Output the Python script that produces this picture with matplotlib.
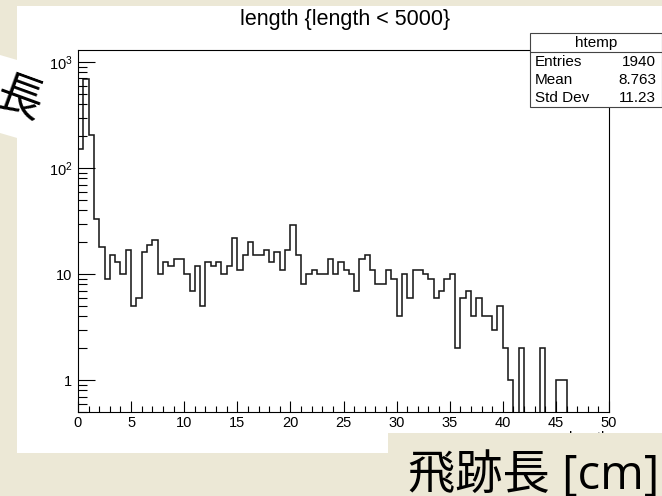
import numpy as np
import matplotlib
matplotlib.use("Agg")
import matplotlib.pyplot as plt
from matplotlib.patches import Rectangle, Polygon
from matplotlib.ticker import FixedLocator, MultipleLocator, LogLocator, NullFormatter

plt.rcParams["font.family"] = ["Liberation Sans", "Noto Sans CJK JP", "DejaVu Sans"]
plt.rcParams["mathtext.fontset"] = "custom"
plt.rcParams["mathtext.rm"] = "Liberation Sans"
plt.rcParams["mathtext.it"] = "Liberation Sans:italic"

# ---- histogram data: 100 bins of 0.5 cm between 0 and 50 ----
x_min, x_max, n_bins = 0.0, 50.0, 100
counts = [
    150, 692, 203, 33, 18, 9, 15, 13, 10, 17,
    5, 6, 16, 19, 21, 10, 13, 12, 14, 14,
    10, 7, 12, 5, 13, 12, 13, 10, 12, 22,
    11, 15, 20, 15, 15, 17, 13, 16, 11, 17,
    29, 15, 8, 10, 11, 10, 10, 14, 10, 13,
    11, 10, 7, 14, 15, 11, 8, 8, 11, 9,
    4, 10, 6, 11, 11, 10, 9, 6, 7, 9,
    10, 2, 6, 7, 4, 6, 4, 4, 3, 5,
    2, 1, 0, 2, 0, 0, 0, 2, 0, 0,
    1, 1, 0, 0, 0, 0, 0, 0, 0, 0,
]
y_ticks = [1, 10, 100, 1000]
y_tick_labels = ["1", "10", r"$10^{2}$", r"$10^{3}$"]
x_ticks = [0, 5, 10, 15, 20, 25, 30, 35, 40, 45, 50]
x_tick_labels = ["0", "5", "10", "15", "20", "25", "30", "35", "40", "45", "50"]

title = "length {length < 5000}"
hist_name = "htemp"
stat_names = ["Entries", "Mean", "Std Dev"]
stat_values = ["1940", "8.763", "11.23"]
x_title = "length"
overlay_label = "飛跡長 [cm]"
overlay_side = "長"

BEIGE = "#ece8d6"
W, H = 662, 496
SMALL = 10.5
STATS = 11


def fx(px):
    return px / W


def fy(py):
    return 1 - py / H


fig = plt.figure(figsize=(W / 100, H / 100), dpi=100, facecolor=BEIGE)

# white canvas
fig.patches.append(Rectangle((fx(17), fy(453)), 1.0, fy(6) - fy(453),
                             transform=fig.transFigure, facecolor="white",
                             edgecolor="none", zorder=-10))
# tilted white strip on the left edge
fig.patches.append(Polygon([(fx(0), fy(55)), (fx(24), fy(62)), (fx(24), fy(140)), (fx(0), fy(133))],
                           closed=True, transform=fig.transFigure, facecolor="white",
                           edgecolor="none", zorder=-9))

ax = fig.add_axes([fx(78), fy(412), fx(609) - fx(78), fy(50) - fy(412)])
edges = np.linspace(x_min, x_max, n_bins + 1)
vals = np.asarray(counts, dtype=float)
floor = 1e-3
drawn = np.where(vals > 0, vals, floor)
ax.stairs(drawn, edges, baseline=floor, color="#1a1a1a", lw=1.15)

ax.set_yscale("log")
ax.set_xlim(x_min, x_max)
ax.set_ylim(0.5, 1300)

ax.yaxis.set_major_locator(FixedLocator(y_ticks))
ax.set_yticklabels(y_tick_labels)
ax.yaxis.set_minor_locator(LogLocator(base=10, subs=np.arange(2, 10)))
ax.yaxis.set_minor_formatter(NullFormatter())
ax.xaxis.set_major_locator(FixedLocator(x_ticks))
ax.set_xticklabels(x_tick_labels)
ax.xaxis.set_minor_locator(MultipleLocator(1))

ax.tick_params(which="both", direction="in", top=False, right=False, width=0.8,
               labelsize=SMALL, colors="black")
ax.tick_params(axis="y", which="major", length=12, pad=4)
ax.tick_params(axis="y", which="minor", length=6.5)
ax.tick_params(axis="x", which="major", length=8, pad=3)
ax.tick_params(axis="x", which="minor", length=4)
for s in ax.spines.values():
    s.set_linewidth(0.8)
    s.set_color("black")

# title
fig.text(fx(345.5), fy(20), title, ha="center", va="center", fontsize=15.5)

# x-axis title (mostly hidden by the label box below)
fig.text(fx(609), fy(431), x_title, ha="right", va="top", fontsize=SMALL, zorder=4)

# statistics box
bx0, bx1, by0, by1, bsep = 530, 661.5, 33, 107, 52
fig.patches.append(Rectangle((fx(bx0), fy(by1)), fx(bx1) - fx(bx0), fy(by0) - fy(by1),
                             transform=fig.transFigure, facecolor="white",
                             edgecolor="#444444", lw=0.8, zorder=5))
fig.add_artist(plt.Line2D([fx(bx0), fx(bx1)], [fy(bsep), fy(bsep)],
                          transform=fig.transFigure, color="#444444", lw=0.8, zorder=6))
fig.text(fx((bx0 + bx1) / 2), fy(43), hist_name, ha="center", va="center", fontsize=STATS, zorder=7)
for i, (name, val) in enumerate(zip(stat_names, stat_values)):
    yy = 62 + i * 18
    fig.text(fx(535), fy(yy), name, ha="left", va="center", fontsize=STATS, zorder=7)
    fig.text(fx(656), fy(yy), val, ha="right", va="center", fontsize=STATS, zorder=7)

# large axis label box at the bottom right
fig.patches.append(Rectangle((fx(388), 0), 1.0, fy(433), transform=fig.transFigure,
                             facecolor=BEIGE, edgecolor="none", zorder=20))
fig.text(fx(408), fy(489), overlay_label, ha="left", va="baseline", fontsize=34,
         family=["Open Sans", "Noto Sans CJK JP", "DejaVu Sans"], zorder=21)

# rotated glyph on the left edge
fig.text(fx(19), fy(99), overlay_side, ha="center", va="center", fontsize=33, rotation=-20,
         family=["Noto Sans CJK JP", "DejaVu Sans"], zorder=21)

fig.savefig("out.png", dpi=100, facecolor=BEIGE)
